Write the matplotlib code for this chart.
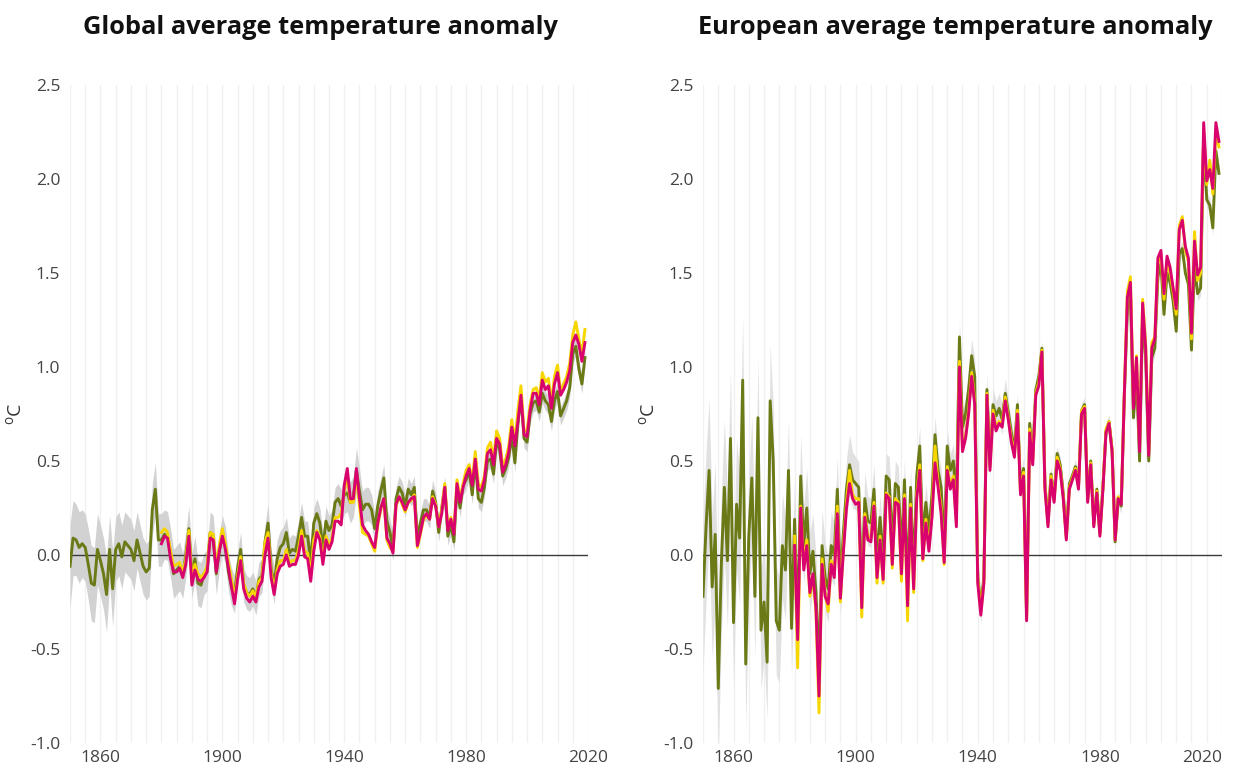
"""
Global and European average temperature anomaly, two panels side by side.
"""

import matplotlib.pyplot as plt
import numpy as np

plt.rcParams["font.family"] = ["Open Sans", "DejaVu Sans"]

years = np.arange(1850, 2020)
years_late = np.arange(1880, 2020)

# global: long record with uncertainty band (green), two shorter records (yellow, magenta)
global_green = [
    -0.06, 0.09, 0.08, 0.04, 0.06, 0.04, -0.05, -0.15, -0.16, 0.03,
    -0.03, -0.10, -0.21, 0.03, -0.18, 0.03, 0.06, -0.01, 0.07, 0.05,
    0.03, -0.03, 0.08, 0.01, -0.06, -0.09, -0.07, 0.24, 0.35, 0.08,
    0.08, 0.11, 0.10, 0.01, -0.10, -0.08, -0.06, -0.11, 0.00, 0.14,
    -0.11, -0.02, -0.15, -0.16, -0.10, -0.08, 0.12, 0.10, -0.10, 0.02,
    0.11, 0.05, -0.09, -0.17, -0.21, -0.07, 0.03, -0.16, -0.20, -0.21,
    -0.18, -0.23, -0.13, -0.11, 0.07, 0.17, -0.07, -0.16, -0.02, 0.04,
    0.06, 0.12, 0.01, 0.03, 0.02, 0.10, 0.20, 0.10, 0.10, -0.04,
    0.17, 0.22, 0.17, 0.04, 0.18, 0.13, 0.16, 0.28, 0.30, 0.26,
    0.32, 0.33, 0.28, 0.31, 0.45, 0.34, 0.24, 0.27, 0.27, 0.24,
    0.14, 0.26, 0.34, 0.41, 0.18, 0.12, 0.04, 0.30, 0.36, 0.33,
    0.26, 0.35, 0.32, 0.36, 0.09, 0.17, 0.24, 0.24, 0.20, 0.34,
    0.28, 0.12, 0.25, 0.37, 0.10, 0.16, 0.07, 0.36, 0.25, 0.37,
    0.40, 0.45, 0.32, 0.50, 0.30, 0.28, 0.36, 0.50, 0.51, 0.43,
    0.61, 0.56, 0.42, 0.46, 0.52, 0.64, 0.49, 0.70, 0.85, 0.62,
    0.60, 0.75, 0.81, 0.82, 0.76, 0.86, 0.82, 0.80, 0.71, 0.82,
    0.87, 0.74, 0.78, 0.82, 0.89, 1.07, 1.11, 0.99, 0.91, 1.05,
]
global_unc = [
    0.22, 0.20, 0.19, 0.19, 0.18, 0.18, 0.19, 0.20, 0.20, 0.19,
    0.19, 0.19, 0.20, 0.18, 0.20, 0.17, 0.17, 0.17, 0.16, 0.16,
    0.16, 0.16, 0.15, 0.15, 0.15, 0.15, 0.15, 0.14, 0.14, 0.14,
    0.14, 0.13, 0.13, 0.13, 0.13, 0.13, 0.13, 0.12, 0.12, 0.12,
    0.12, 0.12, 0.12, 0.12, 0.11, 0.11, 0.11, 0.11, 0.11, 0.10,
    0.10, 0.10, 0.10, 0.10, 0.10, 0.09, 0.09, 0.09, 0.09, 0.09,
    0.09, 0.09, 0.09, 0.09, 0.09, 0.10, 0.10, 0.10, 0.10, 0.09,
    0.09, 0.08, 0.08, 0.08, 0.08, 0.08, 0.08, 0.08, 0.08, 0.08,
    0.08, 0.08, 0.08, 0.08, 0.08, 0.08, 0.08, 0.08, 0.08, 0.09,
    0.10, 0.10, 0.11, 0.11, 0.12, 0.12, 0.10, 0.09, 0.09, 0.08,
    0.08, 0.08, 0.07, 0.07, 0.07, 0.07, 0.07, 0.06, 0.06, 0.06,
    0.06, 0.06, 0.06, 0.06, 0.06, 0.06, 0.06, 0.06, 0.06, 0.06,
    0.05, 0.05, 0.05, 0.05, 0.05, 0.05, 0.05, 0.05, 0.05, 0.05,
    0.05, 0.05, 0.05, 0.05, 0.05, 0.05, 0.05, 0.05, 0.05, 0.05,
    0.05, 0.05, 0.05, 0.05, 0.05, 0.05, 0.05, 0.05, 0.05, 0.05,
    0.05, 0.05, 0.05, 0.05, 0.05, 0.05, 0.05, 0.05, 0.05, 0.05,
    0.05, 0.05, 0.05, 0.05, 0.05, 0.05, 0.05, 0.05, 0.05, 0.05,
]
global_yellow = [
    0.12, 0.14, 0.12, 0.02, -0.06, -0.05, -0.04, -0.10, -0.02, 0.13,
    -0.12, -0.05, -0.10, -0.12, -0.10, -0.06, 0.12, 0.11, -0.06, 0.05,
    0.14, 0.06, -0.04, -0.13, -0.23, -0.11, -0.01, -0.15, -0.20, -0.22,
    -0.19, -0.22, -0.14, -0.12, 0.07, 0.12, -0.09, -0.19, -0.08, -0.03,
    -0.03, 0.03, -0.04, -0.03, -0.03, 0.03, 0.13, 0.02, 0.01, -0.11,
    0.08, 0.13, 0.10, -0.03, 0.10, 0.05, 0.09, 0.20, 0.20, 0.22,
    0.34, 0.42, 0.28, 0.28, 0.43, 0.26, 0.12, 0.11, 0.10, 0.06,
    0.02, 0.16, 0.24, 0.30, 0.08, 0.04, 0.02, 0.26, 0.31, 0.27,
    0.23, 0.28, 0.29, 0.32, 0.04, 0.11, 0.19, 0.21, 0.19, 0.31,
    0.27, 0.15, 0.24, 0.38, 0.14, 0.20, 0.12, 0.40, 0.30, 0.38,
    0.45, 0.48, 0.39, 0.55, 0.38, 0.36, 0.42, 0.57, 0.60, 0.51,
    0.66, 0.62, 0.47, 0.51, 0.58, 0.72, 0.60, 0.77, 0.90, 0.66,
    0.66, 0.80, 0.88, 0.89, 0.83, 0.97, 0.92, 0.94, 0.81, 0.95,
    1.01, 0.87, 0.91, 0.95, 1.02, 1.17, 1.24, 1.15, 1.07, 1.20,
]
global_magenta = [
    0.06, 0.10, 0.09, -0.02, -0.09, -0.09, -0.07, -0.12, -0.05, 0.10,
    -0.16, -0.08, -0.13, -0.14, -0.12, -0.09, 0.09, 0.08, -0.09, 0.02,
    0.10, 0.03, -0.07, -0.17, -0.26, -0.13, -0.03, -0.18, -0.23, -0.25,
    -0.22, -0.25, -0.17, -0.14, 0.00, 0.09, -0.12, -0.21, -0.10, -0.06,
    -0.05, 0.00, -0.06, -0.05, -0.05, 0.00, 0.10, -0.01, -0.02, -0.14,
    0.02, 0.12, 0.08, -0.05, 0.08, 0.03, 0.07, 0.18, 0.18, 0.16,
    0.37, 0.46, 0.30, 0.30, 0.46, 0.30, 0.16, 0.13, 0.11, 0.07,
    0.04, 0.17, 0.25, 0.30, 0.09, 0.06, 0.01, 0.27, 0.31, 0.28,
    0.24, 0.28, 0.30, 0.31, 0.05, 0.12, 0.20, 0.22, 0.19, 0.30,
    0.26, 0.15, 0.22, 0.36, 0.13, 0.19, 0.11, 0.38, 0.28, 0.36,
    0.42, 0.46, 0.37, 0.51, 0.35, 0.34, 0.40, 0.54, 0.56, 0.48,
    0.62, 0.59, 0.44, 0.48, 0.55, 0.68, 0.58, 0.71, 0.85, 0.64,
    0.63, 0.77, 0.86, 0.86, 0.80, 0.93, 0.88, 0.90, 0.78, 0.91,
    0.97, 0.85, 0.88, 0.92, 0.98, 1.13, 1.17, 1.12, 1.03, 1.13,
]

# Europe
europe_green = [
    -0.22, 0.15, 0.45, -0.17, 0.11, -0.71, -0.05, 0.36, -0.03, 0.62,
    -0.36, 0.27, 0.09, 0.93, -0.58, 0.10, 0.41, -0.22, 0.73, -0.40,
    -0.25, -0.57, 0.82, 0.50, -0.35, -0.40, 0.05, -0.08, 0.45, -0.39,
    0.19, -0.40, 0.42, 0.05, 0.25, -0.10, 0.02, -0.20, -0.60, 0.05,
    -0.12, -0.18, 0.05, 0.00, 0.35, -0.15, 0.12, 0.35, 0.48, 0.40,
    0.38, 0.36, -0.20, 0.30, 0.18, 0.17, 0.35, -0.02, 0.20, -0.05,
    0.42, 0.40, 0.05, 0.38, 0.36, 0.00, 0.40, -0.18, 0.36, -0.10,
    0.42, 0.58, 0.08, 0.28, 0.12, 0.32, 0.64, 0.45, 0.36, 0.05,
    0.58, 0.45, 0.50, 0.28, 1.16, 0.68, 0.75, 0.88, 1.06, 0.95,
    -0.12, -0.27, -0.12, 0.88, 0.50, 0.80, 0.74, 0.78, 0.72, 0.86,
    0.76, 0.65, 0.56, 0.80, 0.36, 0.46, -0.32, 0.70, 0.52, 0.88,
    0.95, 1.10, 0.38, 0.18, 0.43, 0.30, 0.54, 0.48, 0.33, 0.10,
    0.38, 0.42, 0.47, 0.37, 0.77, 0.80, 0.30, 0.50, 0.17, 0.35,
    0.12, 0.36, 0.66, 0.71, 0.56, 0.07, 0.30, 0.26, 0.84, 1.30,
    1.40, 0.73, 0.95, 0.50, 1.28, 1.05, 0.50, 1.05, 1.10, 1.48,
    1.55, 1.28, 1.50, 1.45, 1.35, 1.19, 1.60, 1.63, 1.50, 1.44,
    1.09, 1.55, 1.39, 1.42, 2.22, 1.89, 1.86, 1.74, 2.15, 2.03,
]
europe_unc = [
    0.40, 0.40, 0.38, 0.38, 0.38, 0.37, 0.37, 0.36, 0.36, 0.36,
    0.35, 0.35, 0.35, 0.34, 0.34, 0.33, 0.33, 0.33, 0.32, 0.32,
    0.30, 0.30, 0.30, 0.29, 0.29, 0.28, 0.28, 0.27, 0.27, 0.26,
    0.22, 0.22, 0.22, 0.21, 0.21, 0.21, 0.20, 0.20, 0.20, 0.19,
    0.18, 0.18, 0.18, 0.17, 0.17, 0.17, 0.16, 0.16, 0.16, 0.15,
    0.14, 0.14, 0.14, 0.14, 0.13, 0.13, 0.13, 0.13, 0.12, 0.12,
    0.12, 0.12, 0.12, 0.12, 0.11, 0.11, 0.11, 0.11, 0.11, 0.11,
    0.10, 0.10, 0.10, 0.10, 0.10, 0.10, 0.10, 0.10, 0.10, 0.10,
    0.09, 0.09, 0.09, 0.09, 0.09, 0.09, 0.09, 0.09, 0.09, 0.09,
    0.09, 0.09, 0.09, 0.09, 0.09, 0.09, 0.08, 0.08, 0.08, 0.08,
    0.06, 0.06, 0.06, 0.06, 0.06, 0.06, 0.06, 0.06, 0.06, 0.06,
    0.04, 0.04, 0.04, 0.04, 0.04, 0.04, 0.04, 0.04, 0.04, 0.04,
    0.04, 0.04, 0.04, 0.04, 0.04, 0.04, 0.04, 0.04, 0.04, 0.04,
    0.04, 0.04, 0.04, 0.04, 0.04, 0.04, 0.04, 0.04, 0.04, 0.04,
    0.04, 0.04, 0.04, 0.04, 0.04, 0.04, 0.04, 0.04, 0.04, 0.04,
    0.04, 0.04, 0.04, 0.04, 0.04, 0.04, 0.04, 0.04, 0.04, 0.04,
    0.04, 0.04, 0.04, 0.04, 0.04, 0.04, 0.04, 0.04, 0.04, 0.04,
]
europe_yellow = [
    0.10, -0.60, 0.26, -0.05, 0.08, -0.22, -0.12, -0.30, -0.84, -0.02,
    -0.20, -0.30, -0.03, -0.10, 0.26, -0.25, 0.05, 0.28, 0.45, 0.32,
    0.30, 0.30, -0.33, 0.22, 0.10, 0.09, 0.28, -0.15, 0.10, -0.15,
    0.33, 0.31, -0.07, 0.30, 0.28, -0.14, 0.32, -0.35, 0.27, -0.20,
    0.32, 0.48, -0.03, 0.19, 0.04, 0.22, 0.58, 0.38, 0.25, -0.05,
    0.47, 0.37, 0.42, 0.18, 1.03, 0.58, 0.63, 0.77, 0.97, 0.82,
    -0.13, -0.30, -0.14, 0.86, 0.47, 0.77, 0.68, 0.71, 0.70, 0.84,
    0.73, 0.62, 0.53, 0.77, 0.33, 0.44, -0.34, 0.67, 0.50, 0.86,
    0.92, 1.09, 0.37, 0.16, 0.42, 0.29, 0.52, 0.46, 0.31, 0.09,
    0.36, 0.41, 0.46, 0.36, 0.77, 0.79, 0.29, 0.49, 0.16, 0.34,
    0.11, 0.36, 0.67, 0.71, 0.56, 0.08, 0.31, 0.28, 0.86, 1.40,
    1.48, 0.80, 1.06, 0.57, 1.36, 1.12, 0.55, 1.13, 1.16, 1.55,
    1.60, 1.36, 1.57, 1.50, 1.40, 1.28, 1.75, 1.80, 1.62, 1.56,
    1.15, 1.72, 1.46, 1.50, 2.25, 1.97, 2.10, 1.92, 2.25, 2.17,
]
europe_magenta = [
    0.05, -0.45, 0.25, -0.08, 0.05, -0.20, -0.10, -0.28, -0.75, -0.05,
    -0.22, -0.26, -0.05, -0.12, 0.22, -0.23, 0.02, 0.25, 0.38, 0.30,
    0.27, 0.28, -0.28, 0.20, 0.08, 0.07, 0.26, -0.12, 0.08, -0.13,
    0.32, 0.30, -0.05, 0.28, 0.27, -0.10, 0.30, -0.27, 0.25, -0.18,
    0.30, 0.45, -0.02, 0.17, 0.02, 0.20, 0.49, 0.36, 0.22, -0.04,
    0.45, 0.35, 0.40, 0.15, 1.00, 0.55, 0.62, 0.75, 0.95, 0.80,
    -0.15, -0.32, -0.15, 0.85, 0.45, 0.75, 0.66, 0.70, 0.68, 0.82,
    0.72, 0.60, 0.52, 0.75, 0.32, 0.42, -0.35, 0.65, 0.48, 0.85,
    0.90, 1.08, 0.35, 0.15, 0.40, 0.28, 0.50, 0.45, 0.30, 0.08,
    0.35, 0.40, 0.45, 0.35, 0.75, 0.78, 0.28, 0.48, 0.15, 0.33,
    0.10, 0.35, 0.65, 0.70, 0.55, 0.08, 0.30, 0.27, 0.85, 1.37,
    1.45, 0.78, 1.05, 0.55, 1.34, 1.10, 0.53, 1.10, 1.15, 1.58,
    1.62, 1.39, 1.59, 1.53, 1.42, 1.31, 1.73, 1.78, 1.64, 1.58,
    1.18, 1.67, 1.49, 1.53, 2.30, 1.99, 2.05, 1.95, 2.30, 2.20,
]

x_labels = [1860, 1900, 1940, 1980, 2020]
y_ticks = [-1.0, -0.5, 0.0, 0.5, 1.0, 1.5, 2.0, 2.5]

GREEN = "#6b7a16"
YELLOW = "#f7d600"
MAGENTA = "#d9036e"


def draw_panel(ax, green, unc, yellow, magenta, band_color):
    green = np.array(green)
    unc = np.array(unc)
    ax.fill_between(years, green - unc, green + unc, color=band_color, lw=0, zorder=1)
    ax.axhline(0, color="#3a3a3a", lw=1, zorder=2)
    ax.plot(years, green, color=GREEN, lw=2.1, zorder=3)
    ax.plot(years_late, yellow, color=YELLOW, lw=2.1, zorder=4)
    ax.plot(years_late, magenta, color=MAGENTA, lw=2.1, zorder=5)

    ax.set_xlim(1850, 2020)
    ax.set_ylim(-1.0, 2.5)
    ax.set_xticks(x_labels)
    ax.set_xticks(np.arange(1850, 2021, 5), minor=True)
    ax.set_yticks(y_ticks)
    ax.set_yticklabels([f"{v:.1f}" for v in y_ticks])
    ax.grid(axis="x", which="both", color="#f0f0f0", lw=1, zorder=0)
    ax.set_axisbelow(True)
    for s in ax.spines.values():
        s.set_visible(False)
    ax.tick_params(which="both", length=0, labelsize=12.5, colors="#444444")
    ax.tick_params(axis="x", pad=5)
    ax.tick_params(axis="y", pad=7)
    ax.set_ylabel(r"$\mathregular{^{o}C}$", fontsize=14, color="#333333", labelpad=0)
    ax.yaxis.set_label_coords(-0.087, 0.5)


fig = plt.figure(figsize=(12.37, 7.69), dpi=100)
ax1 = fig.add_axes([70 / 1237, 26 / 769, 518 / 1237, 658 / 769])
ax2 = fig.add_axes([703 / 1237, 26 / 769, 519 / 1237, 658 / 769])

draw_panel(ax1, global_green, global_unc, global_yellow, global_magenta, "#d2d2d2")
draw_panel(ax2, europe_green, europe_unc, europe_yellow, europe_magenta, "#e1e1e1")

# the last label of the right panel is pulled inside the figure edge
ax2.get_xticklabels()[-1].set_horizontalalignment("right")

fig.text(320 / 1237, 1 - 27 / 769, "Global average temperature anomaly",
         ha="center", va="center", fontsize=18.3, fontweight="bold", color="#111111")
fig.text(955 / 1237, 1 - 27 / 769, "European average temperature anomaly",
         ha="center", va="center", fontsize=18.3, fontweight="bold", color="#111111")

fig.savefig("out.png", dpi=100)
